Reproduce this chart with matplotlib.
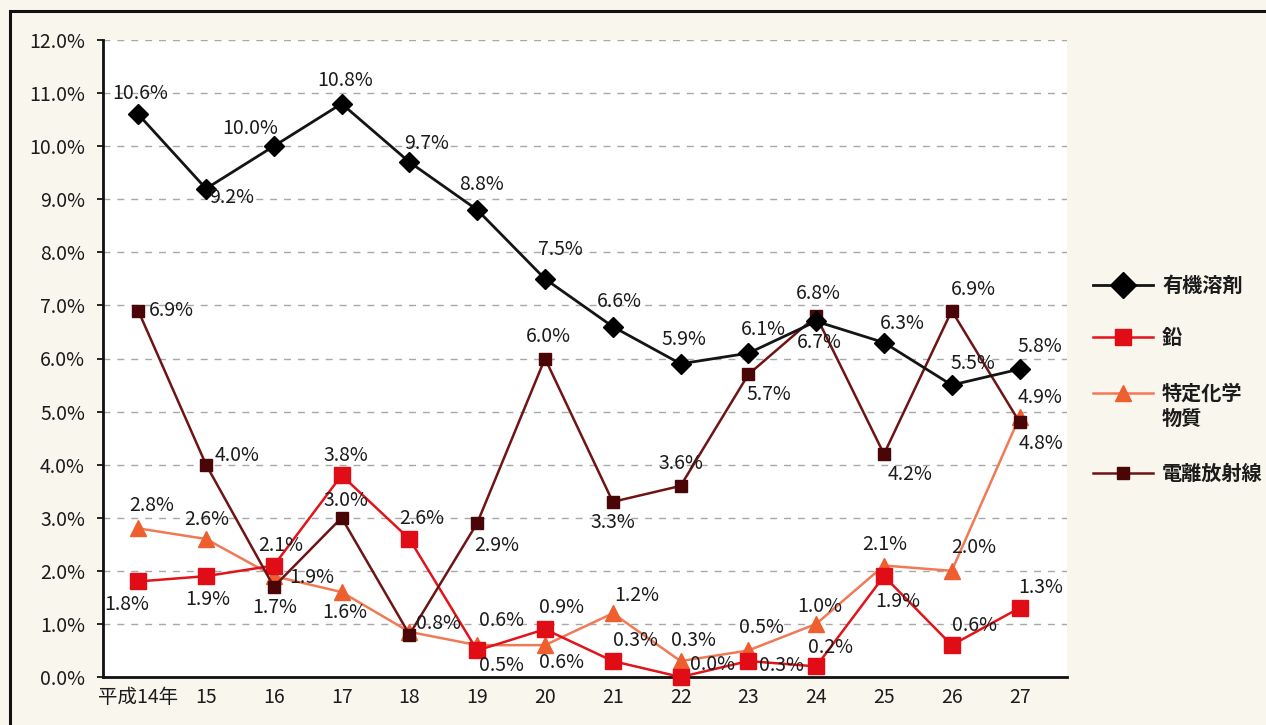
import matplotlib
matplotlib.use("Agg")
import matplotlib.pyplot as plt
from matplotlib.patches import Rectangle
from matplotlib.lines import Line2D

plt.rcParams['font.family'] = ['Liberation Sans Narrow', 'Noto Sans CJK JP', 'DejaVu Sans']

# data (%)
years = ['平成14年', '15', '16', '17', '18', '19', '20', '21', '22', '23', '24', '25', '26', '27']
series_names = ['有機溶剤', '鉛', '特定化学\n物質', '電離放射線']
organic = [10.6, 9.2, 10.0, 10.8, 9.7, 8.8, 7.5, 6.6, 5.9, 6.1, 6.7, 6.3, 5.5, 5.8]
lead = [1.8, 1.9, 2.1, 3.8, 2.6, 0.5, 0.9, 0.3, 0.0, 0.3, 0.2, 1.9, 0.6, 1.3]
chem = [2.8, 2.6, 1.9, 1.6, 0.85, 0.6, 0.6, 1.2, 0.3, 0.5, 1.0, 2.1, 2.0, 4.9]
radiation = [6.9, 4.0, 1.7, 3.0, 0.8, 2.9, 6.0, 3.3, 3.6, 5.7, 6.8, 4.2, 6.9, 4.8]

# label offsets in pixels (dx, dy), None = no label
off_organic = [(2, 21), (26, -9), (-24, 18), (3, 23), (17, 19), (4, 25), (15, 29), (7, 25),
               (3, 24), (15, 24), (3, -21), (18, 19), (21, 22), (20, 23)]
off_lead = [(-12, -23), (2, -23), (7, 20), (4, 20), (12, 20), (24, -15), (16, 22), (23, 21),
            (32, 12), (33, -4), (14, 19), (14, -25), (23, 20), (21, 20)]
off_chem = [(13, 23), (1, 19), (38, -1), (3, -20), None, (24, 25), (16, -17), (24, 18),
            (13, 21), (13, 23), (4, 17), (1, 21), (22, 23), (21, 19)]
off_rad = [(33, 0), (31, 9), (1, -21), (4, 17), (29, 11), (19, -22), (3, 22), (0, -21),
           (0, 22), (20, -20), (2, 23), (26, -20), (22, 21), (21, -21)]

styles = [
    dict(color='#141414', marker='D', ms=10, mfc='#000000', mec='#000000', lw=2.0, zorder=6),
    dict(color='#e3131b', marker='s', ms=11, mfc='#e00d16', mec='#e00d16', lw=1.8, zorder=4),
    dict(color='#f07a55', marker='^', ms=11, mfc='#ef5e2f', mec='#ef5e2f', lw=1.8, zorder=3),
    dict(color='#6e1414', marker='s', ms=8, mfc='#4a0606', mec='#4a0606', lw=1.8, zorder=5),
]

fig = plt.figure(figsize=(12.66, 7.25), dpi=100, facecolor='#f9f6ee')
W, H = 1266, 725
ax = fig.add_axes([103 / W, 1 - 677 / H, (1067 - 103) / W, (677 - 40) / H])
ax.set_facecolor('white')

# outer frame
fig.patches.append(Rectangle((10 / W, -0.1), 1.2, 1 - 11 / H + 0.1, transform=fig.transFigure,
                             fill=False, ec='#111111', lw=2.2))

x = list(range(len(years)))
all_vals = [organic, lead, chem, radiation]
all_offs = [off_organic, off_lead, off_chem, off_rad]
for name, vals, offs, st in zip(series_names, all_vals, all_offs, styles):
    ax.plot(x, vals, label=name, clip_on=False, **st)
    for xi, v, o in zip(x, vals, offs):
        if o is None:
            continue
        ax.annotate(f'{v:.1f}%', (xi, v), xytext=o, textcoords='offset pixels',
                    ha='center', va='center', fontsize=14, color='#1c1c1c', zorder=10)

ax.set_xlim(-0.52, 13.7)
ax.set_ylim(0, 12)
ax.set_yticks([i for i in range(13)])
ax.set_yticklabels([f'{i:.1f}%' for i in range(13)], fontsize=14, color='#1c1c1c')
ax.set_xticks(x)
ax.set_xticklabels(years, fontsize=14, color='#1c1c1c')
ax.tick_params(axis='x', length=0, pad=7)
ax.tick_params(axis='y', length=4, direction='out', pad=9, width=1.2)
ax.grid(axis='y', color='#a8a8a8', linestyle=(0, (5, 5)), lw=1.0)
ax.set_axisbelow(True)
for s in ['top', 'right']:
    ax.spines[s].set_visible(False)
for s in ['left', 'bottom']:
    ax.spines[s].set_linewidth(2.0)
    ax.spines[s].set_color('#111111')

# legend drawn by hand so the two-line label keeps its handle on the first line
leg_rows = [285, 337, 393, 473]
leg_ms = [13, 12, 12, 9]
for name, st, row, ms in zip(series_names, styles, leg_rows, leg_ms):
    yy = 1 - row / H
    st2 = dict(st)
    st2['ms'] = ms
    st2.pop('zorder')
    fig.add_artist(Line2D([1093 / W, 1153 / W], [yy, yy], transform=fig.transFigure,
                          markevery=[], **st2))
    fig.add_artist(Line2D([1123 / W], [yy], transform=fig.transFigure, **st2))
    first, *rest = name.split('\n')
    fig.text(1162 / W, yy, first, ha='left', va='center', fontsize=14.5, weight='bold',
             family=['Noto Sans CJK JP'], color='#1c1c1c')
    for k, line in enumerate(rest):
        fig.text(1162 / W, yy - 25 * (k + 1) / H, line, ha='left', va='center', fontsize=14.5,
                 weight='bold', family=['Noto Sans CJK JP'], color='#1c1c1c')

fig.savefig('out.png', dpi=100, facecolor=fig.get_facecolor())
